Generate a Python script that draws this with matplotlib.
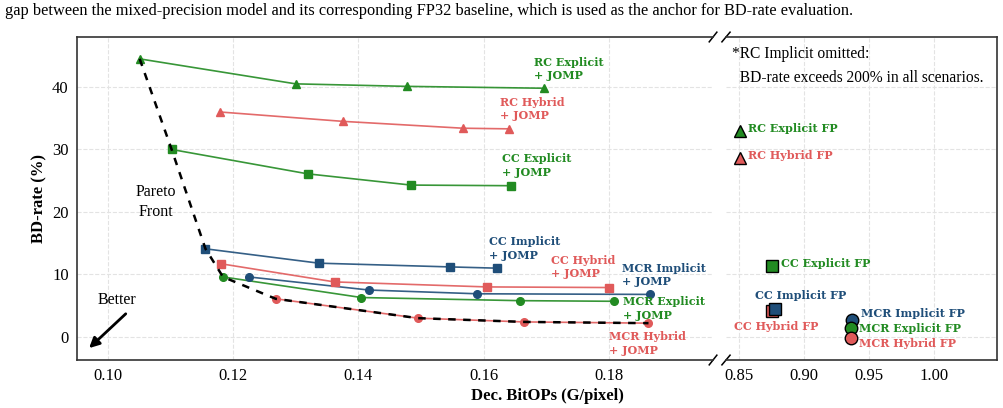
import numpy as np
import matplotlib.pyplot as plt

green = "#228B22"
red = "#E05A5A"
blue = "#1F4E79"

# mixed-precision + JOMP curves: (BitOPs, BD-rate)
rc_explicit_x = [0.1051, 0.1300, 0.1477, 0.1696]
rc_explicit_y = [44.5, 40.5, 40.1, 39.8]
rc_hybrid_x = [0.1179, 0.1375, 0.1567, 0.1640]
rc_hybrid_y = [36.0, 34.5, 33.4, 33.3]
cc_explicit_x = [0.1102, 0.1319, 0.1484, 0.1643]
cc_explicit_y = [30.0, 26.1, 24.3, 24.2]
cc_implicit_x = [0.1156, 0.1337, 0.1547, 0.1622]
cc_implicit_y = [14.1, 11.8, 11.2, 11.0]
cc_hybrid_x = [0.1181, 0.1362, 0.1605, 0.1800]
cc_hybrid_y = [11.7, 8.8, 8.0, 7.9]
mcr_implicit_x = [0.1225, 0.1417, 0.1590, 0.1866]
mcr_implicit_y = [9.6, 7.5, 6.9, 6.8]
mcr_explicit_x = [0.1184, 0.1405, 0.1658, 0.1808]
mcr_explicit_y = [9.6, 6.3, 5.8, 5.7]
mcr_hybrid_x = [0.1268, 0.1495, 0.1664, 0.1863]
mcr_hybrid_y = [6.1, 3.0, 2.4, 2.2]

pareto_x = [0.1051, 0.1102, 0.1156, 0.1184, 0.1268, 0.1495, 0.1664, 0.1863]
pareto_y = [44.5, 30.0, 14.1, 9.6, 6.1, 3.0, 2.4, 2.2]

# FP32 baselines
fp_names = ["RC Explicit FP", "RC Hybrid FP", "CC Explicit FP", "CC Hybrid FP",
            "CC Implicit FP", "MCR Implicit FP", "MCR Explicit FP", "MCR Hybrid FP"]
fp_x = [0.8508, 0.8508, 0.8756, 0.8756, 0.8777, 0.9372, 0.9360, 0.9360]
fp_y = [33.0, 28.6, 11.3, 4.1, 4.4, 2.7, 1.5, -0.1]
fp_colors = [green, red, green, red, blue, blue, green, red]
fp_markers = ["^", "^", "s", "s", "s", "o", "o", "o"]
fp_label_pos = [(0.857, 33.3), (0.857, 29.0), (0.8823, 11.8), (0.8462, 1.6),
                (0.8623, 6.6), (0.9438, 3.8), (0.9423, 1.3), (0.9423, -1.0)]

serif = "Liberation Serif"
lab_font = dict(family="DejaVu Serif", fontweight="bold", fontsize=8)

fig = plt.figure(figsize=(10.04, 4.08), dpi=100)
ax1 = fig.add_axes([0.0767, 0.1176, 0.6335, 0.7917])
ax2 = fig.add_axes([0.7231, 0.1176, 0.2700, 0.7917], sharey=ax1)

fig.text(0.005, 0.973, "gap between the mixed-precision model and its corresponding FP32 baseline, "
         "which is used as the anchor for BD-rate evaluation.",
         family=serif, fontsize=11.8, va="center", ha="left")

curves = [
    (rc_explicit_x, rc_explicit_y, green, "^", "RC Explicit\n+ JOMP", (0.1681, 42.9)),
    (rc_hybrid_x, rc_hybrid_y, red, "^", "RC Hybrid\n+ JOMP", (0.1626, 36.5)),
    (cc_explicit_x, cc_explicit_y, green, "s", "CC Explicit\n+ JOMP", (0.1629, 27.4)),
    (cc_implicit_x, cc_implicit_y, blue, "s", "CC Implicit\n+ JOMP", (0.1608, 14.1)),
    (cc_hybrid_x, cc_hybrid_y, red, "s", "CC Hybrid\n+ JOMP", (0.1707, 11.2)),
    (mcr_implicit_x, mcr_implicit_y, blue, "o", "MCR Implicit\n+ JOMP", (0.1820, 9.9)),
    (mcr_explicit_x, mcr_explicit_y, green, "o", "MCR Explicit\n+ JOMP", (0.1823, 4.6)),
    (mcr_hybrid_x, mcr_hybrid_y, red, "o", "MCR Hybrid\n+ JOMP", (0.1800, -1.0)),
]
for xs, ys, c, m, name, (tx, ty) in curves:
    ax1.plot(xs, ys, color=c, lw=1.2, alpha=0.9, zorder=2)
    ax1.plot(xs, ys, ls="none", marker=m, ms=5.5, color=c, zorder=3)
    ax1.text(tx, ty, name, color=c, va="center", ha="left", linespacing=1.3, **lab_font)

ax1.plot(pareto_x, pareto_y, color="black", ls=(0, (3, 3)), lw=1.8, zorder=4)
ax1.text(0.1077, 21.6, "Pareto\nFront", family=serif, fontsize=11.5, ha="center", va="center",
         linespacing=1.35)
ax1.annotate("", xy=(0.0967, -2.1), xytext=(0.1032, 4.0),
             arrowprops=dict(arrowstyle="-|>,head_length=0.6,head_width=0.3", color="black", lw=2))
ax1.text(0.1014, 5.9, "Better", family=serif, fontsize=11.5, ha="center", va="center")

for i in range(len(fp_names)):
    ax2.plot(fp_x[i], fp_y[i], marker=fp_markers[i], ms=9, color=fp_colors[i],
             mec="black", mew=1.0, ls="none", zorder=3)
    ax2.text(fp_label_pos[i][0], fp_label_pos[i][1], fp_names[i], color=fp_colors[i],
             va="center", ha="left", **lab_font)

ax2.text(0.8446, 46.6, "*RC Implicit omitted:\n  BD-rate exceeds 200% in all scenarios.",
         family=serif, fontsize=11.2, va="top", ha="left", linespacing=1.65)

ax1.set_xlim(0.0951, 0.1966)
ax2.set_xlim(0.840, 1.0485)
ax1.set_ylim(-3.7, 48)
ax1.set_xticks([0.10, 0.12, 0.14, 0.16, 0.18])
ax2.set_xticks([0.85, 0.90, 0.95, 1.00])
ax1.set_yticks([0, 10, 20, 30, 40])

for ax in (ax1, ax2):
    ax.grid(True, ls="--", color="#e3e3e3", lw=0.8)
    ax.set_axisbelow(True)
    ax.tick_params(length=0, pad=6, labelsize=12)
    for lbl in ax.get_xticklabels() + ax.get_yticklabels():
        lbl.set_family(serif)
    for sp in ax.spines.values():
        sp.set_color("#333333")
        sp.set_linewidth(1.2)

ax1.spines["right"].set_visible(False)
ax2.spines["left"].set_visible(False)
ax2.tick_params(axis="y", labelleft=False)

# broken axis marks
d = 0.015
kw = dict(color="black", lw=1.1, clip_on=False)
ax1.plot([1 - d * 0.4, 1 + d * 0.4], [-d, d], transform=ax1.transAxes, **kw)
ax1.plot([1 - d * 0.4, 1 + d * 0.4], [1 - d, 1 + d], transform=ax1.transAxes, **kw)
ax2.plot([-d, d], [-d, d], transform=ax2.transAxes, **kw)
ax2.plot([-d, d], [1 - d, 1 + d], transform=ax2.transAxes, **kw)

ax1.set_ylabel("BD-rate (%)", family=serif, fontweight="bold", fontsize=12, labelpad=3)
fig.text(0.545, 0.03, "Dec. BitOPs (G/pixel)", family=serif, fontweight="bold",
         fontsize=12, ha="center", va="center")

fig.savefig("out.png", dpi=100)
